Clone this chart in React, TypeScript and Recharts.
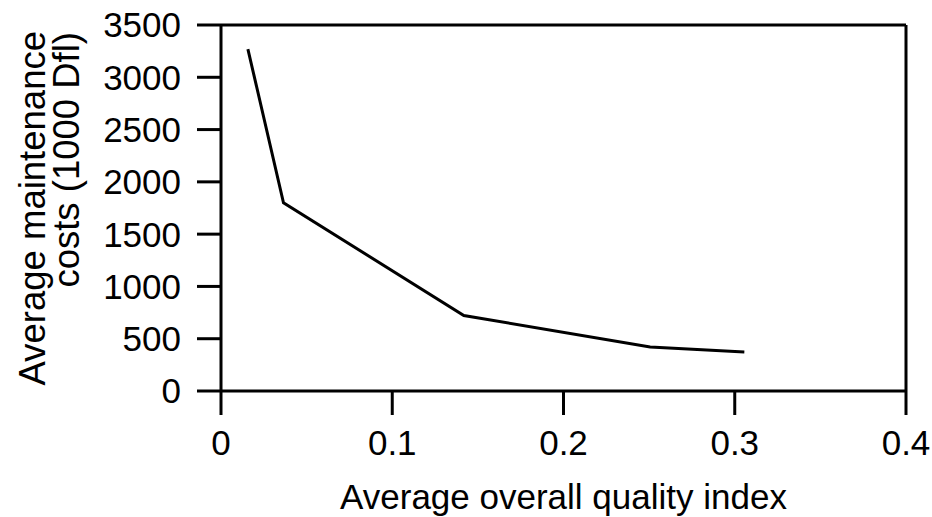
import React from "react";
import { LineChart, Line, XAxis, YAxis, ReferenceLine } from "recharts";

const qualityIndex = [0.0157, 0.0365, 0.1418, 0.2506, 0.3056];
const maintenanceCosts = [3270, 1800, 722, 421, 374];
const xTicks = [0, 0.1, 0.2, 0.3, 0.4];
const yTicks = [0, 500, 1000, 1500, 2000, 2500, 3000, 3500];

const data = qualityIndex.map((q, i) => ({ q, cost: maintenanceCosts[i] }));

const FONT = "'Liberation Sans', Arial, Helvetica, sans-serif";
const FS = 35;
const FS_Y = 36.5;

const YLabel = () => (
  <g>
    <text
      transform="translate(45,31) rotate(-90)"
      textAnchor="end"
      fontSize={FS_Y}
      fontFamily={FONT}
      fill="#000"
    >
      Average maintenance
    </text>
    <text
      transform="translate(79,32) rotate(-90)"
      textAnchor="end"
      fontSize={FS_Y}
      fontFamily={FONT}
      fill="#000"
    >
      costs (1000 Dfl)
    </text>
  </g>
);

const XLabel = (props: any) => {
  const vb = props.viewBox || { x: 0, width: 0 };
  return (
    <text
      x={vb.x + vb.width / 2}
      y={509}
      textAnchor="middle"
      fontSize={FS}
      fontFamily={FONT}
      fill="#000"
    >
      Average overall quality index
    </text>
  );
};

export default function App() {
  const tickStyle = { fontSize: FS, fontFamily: FONT, fill: "#000" };
  return (
    <div
      style={{
        position: "fixed",
        left: 0,
        top: 0,
        width: 932,
        height: 517,
        background: "#fff",
      }}
    >
      <LineChart
        width={932}
        height={517}
        data={data}
        margin={{ top: 25, right: 26, bottom: 0, left: 0 }}
      >
        <XAxis
          dataKey="q"
          type="number"
          domain={[0, 0.4]}
          ticks={xTicks}
          height={126}
          tickSize={24}
          tickMargin={15}
          tick={tickStyle}
          axisLine={{ stroke: "#000", strokeWidth: 3 }}
          tickLine={{ stroke: "#000", strokeWidth: 3 }}
          tickFormatter={(v: number) => String(v)}
          label={<XLabel />}
        />
        <YAxis
          type="number"
          domain={[0, 3500]}
          ticks={yTicks}
          width={221}
          tickSize={24}
          tickMargin={16}
          tick={tickStyle}
          axisLine={{ stroke: "#000", strokeWidth: 3 }}
          tickLine={{ stroke: "#000", strokeWidth: 3 }}
          label={<YLabel />}
        />
        <ReferenceLine y={3500} stroke="#000" strokeWidth={3} />
        <ReferenceLine x={0.4} stroke="#000" strokeWidth={3} />
        <Line
          type="linear"
          dataKey="cost"
          stroke="#000"
          strokeWidth={3}
          dot={false}
          isAnimationActive={false}
        />
      </LineChart>
    </div>
  );
}
